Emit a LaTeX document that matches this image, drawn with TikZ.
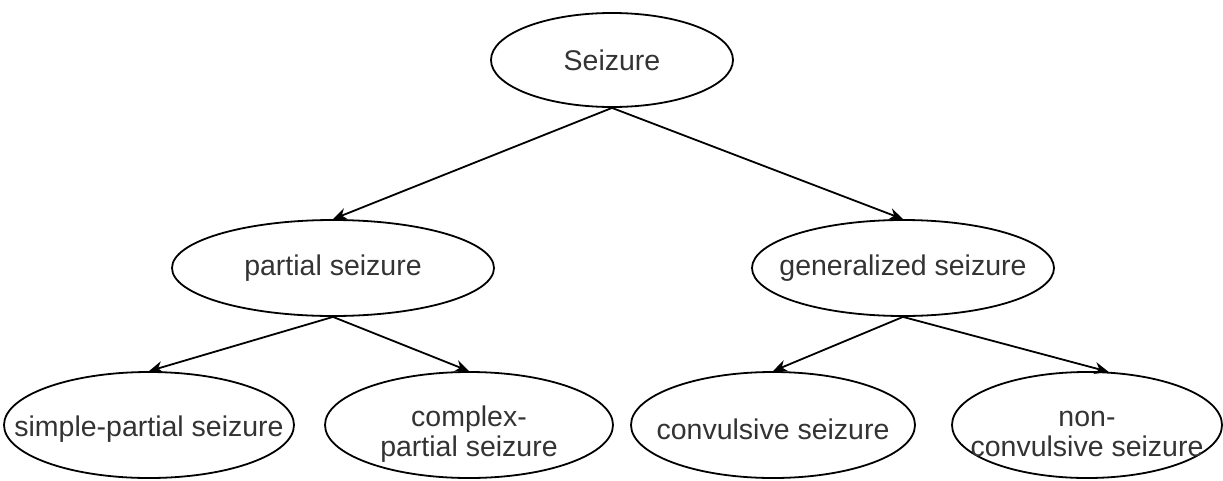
\documentclass[tikz,border=0pt]{standalone}
\usepackage{fontspec}
\setmainfont{Liberation Sans}
\usetikzlibrary{shapes.geometric,arrows.meta}
\tikzset{
  blob/.style={draw, ellipse, line width=1.8pt, inner sep=0pt},
  lbl/.style={text=black!80, align=center, inner sep=0pt,
    font=\fontsize{28.5}{30}\selectfont},
  link/.style={-{Stealth[length=14pt,width=12pt]}, line width=1.8pt}
}
\begin{document}
\begin{tikzpicture}[x=1pt,y=-1pt]
  \useasboundingbox (0,0) rectangle (1223,480);
  % ellipses
  \node[blob, minimum width=242pt, minimum height=94pt]  (sz) at (612,60)  {};
  \node[blob, minimum width=322pt, minimum height=96pt]  (ps) at (333,268) {};
  \node[blob, minimum width=302pt, minimum height=96pt]  (gs) at (903,268) {};
  \node[blob, minimum width=290pt, minimum height=106pt] (sp) at (149,425) {};
  \node[blob, minimum width=288pt, minimum height=106pt] (cp) at (469,425) {};
  \node[blob, minimum width=284pt, minimum height=106pt] (cv) at (773,425) {};
  \node[blob, minimum width=270pt, minimum height=106pt] (nc) at (1087,425) {};
  % labels
  \node[lbl] (sz-t) at (sz) {Seizure};
  \node[lbl] (ps-t) at (ps) {partial seizure};
  \node[lbl] (gs-t) at (gs) {generalized seizure};
  \node[lbl] (sp-t) at ([yshift=-4pt]sp.center) {simple-partial seizure};
  \node[lbl] (cp-t) at ([yshift=-9pt]cp.center) {complex-\\partial seizure};
  \node[lbl] (cv-t) at ([yshift=-4pt]cv.center) {convulsive seizure};
  \node[lbl] (nc-t) at ([yshift=-9pt]nc.center) {non-\\convulsive seizure};
  % edges
  \draw[link] (sz.south) -- (ps.north);
  \draw[link] (sz.south) -- (gs.north);
  \draw[link] (ps.south) -- (sp.north);
  \draw[link] (ps.south) -- (cp.north);
  \draw[link] (gs.south) -- (cv.north);
  \draw[link] (gs.south) -- (nc.68);
\end{tikzpicture}
\end{document}
